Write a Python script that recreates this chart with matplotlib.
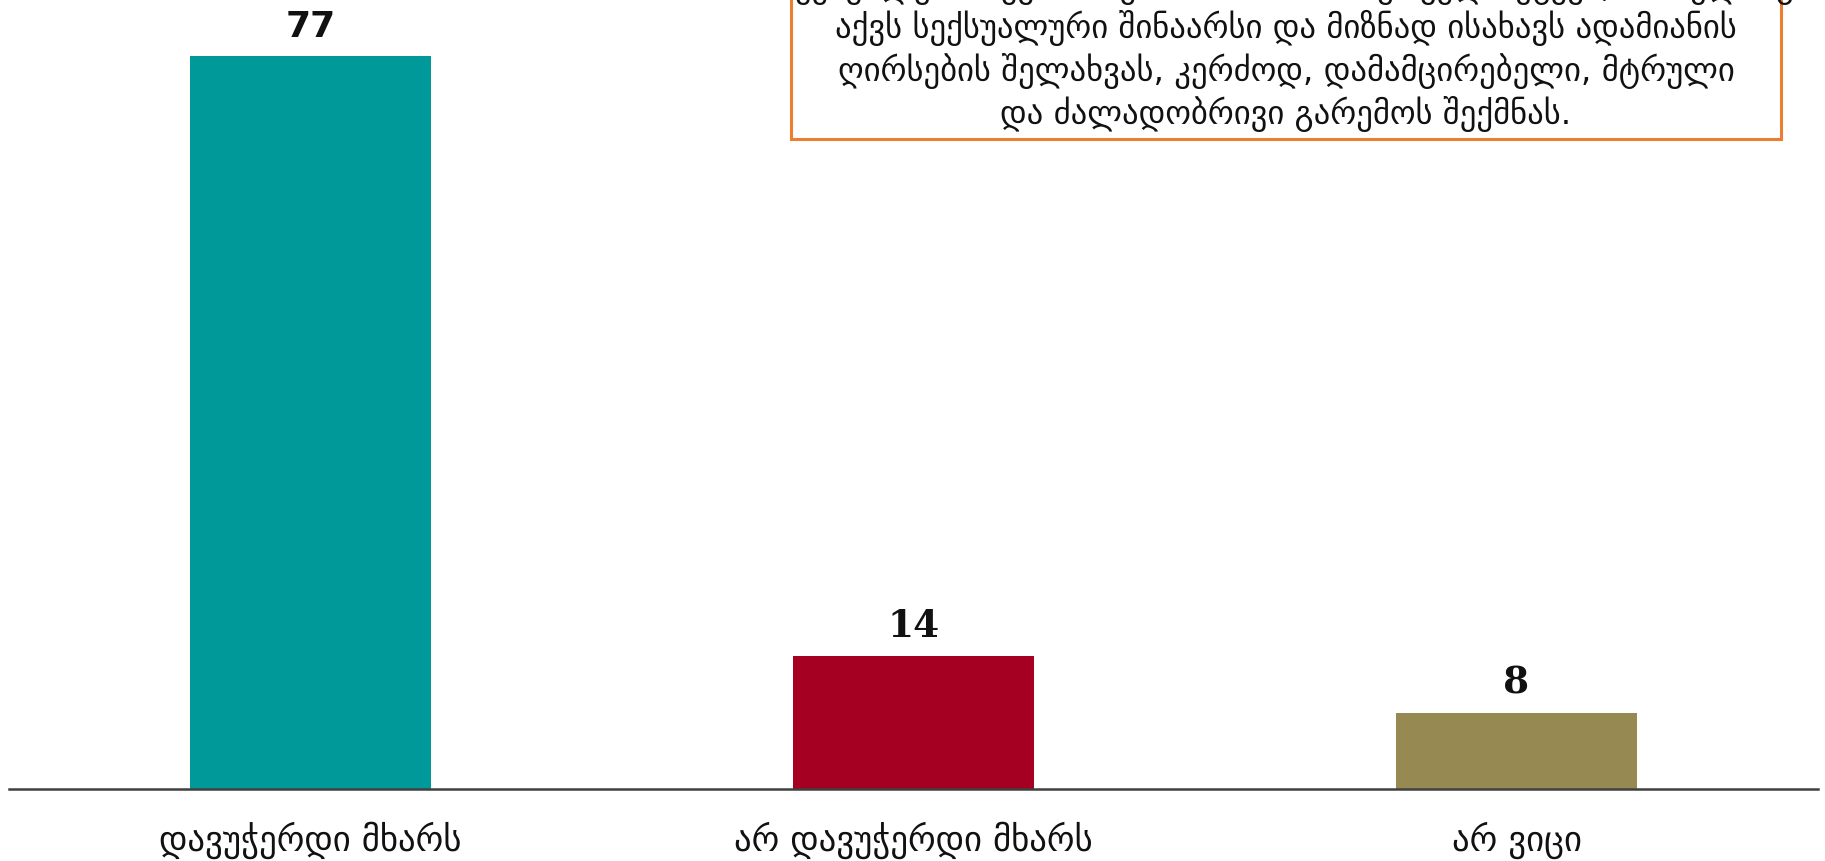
import matplotlib
matplotlib.use("Agg")
import matplotlib.pyplot as plt
from matplotlib.patches import Rectangle

categories = ["დავუჭერდი მხარს", "არ დავუჭერდი მხარს", "არ ვიცი"]
values = [77, 14, 8]
colors = ["#009999", "#A50021", "#968A52"]
box_lines = [
    "სექსუალური შევიწროება არის არასასურველი ქცევა, რომელსაც",
    "აქვს სექსუალური შინაარსი და მიზნად ისახავს ადამიანის",
    "ღირსების შელახვას, კერძოდ, დამამცირებელი, მტრული",
    "და ძალადობრივი გარემოს შექმნას.",
]

plt.rcParams['font.family'] = ['DejaVu Sans']
W, H = 1825, 862
fig = plt.figure(figsize=(W / 100, H / 100), dpi=100)
ax = fig.add_axes([9 / W, 1 - 790 / H, (1818 - 9) / W, 790 / H])
x = list(range(len(categories)))
ax.bar(x, values, width=0.4, color=colors)
ax.set_xlim(-0.5, 2.5)
ax.set_ylim(0, 83)
for s in ["top", "right", "left"]:
    ax.spines[s].set_visible(False)
ax.spines["bottom"].set_color("#404040")
ax.spines["bottom"].set_linewidth(1.8)
ax.set_yticks([])
ax.set_xticks(x)
ax.set_xticklabels(categories, fontsize=25, color="#111111", va="center")
ax.tick_params(axis="x", length=0, pad=36)

label_fonts = [("DejaVu Sans", 26), ("DejaVu Serif", 27), ("DejaVu Serif", 27)]
for xi, v, (fam, fs) in zip(x, values, label_fonts):
    ax.annotate(f"{v}", (xi, v), xytext=(0, 14.4), textcoords="offset points",
                ha="center", va="baseline", fontsize=fs, fontweight="bold",
                family=fam, color="#111111")

rect = Rectangle((791 / W, 1 - 140 / H), 990 / W, 0.3, transform=fig.transFigure,
                 facecolor="white", edgecolor="#ED7D31", linewidth=2.2, zorder=5)
fig.patches.append(rect)
line_y = [-13, 28, 71, 114]
for txt, yy in zip(box_lines, line_y):
    fig.text(1286 / W, 1 - yy / H, txt, ha="center", va="center", fontsize=23.5,
             color="#111111", zorder=6)

fig.savefig("out.png", dpi=100)
